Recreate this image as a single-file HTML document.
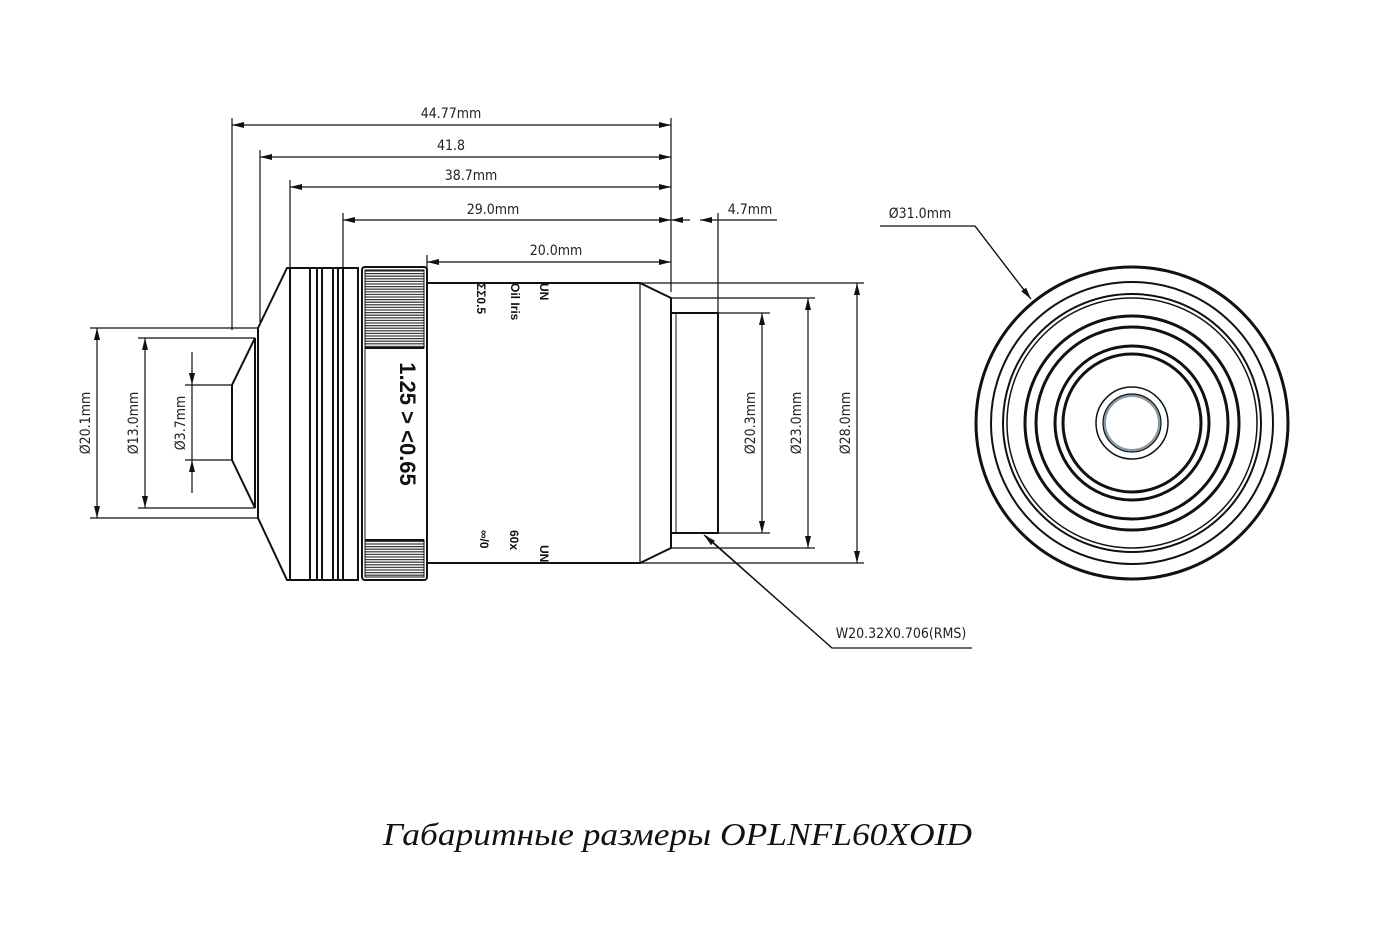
<!DOCTYPE html>
<html><head><meta charset="utf-8"><style>
html,body{margin:0;padding:0;background:#fff;}
svg{display:block}
.t{font-family:"DejaVu Sans Condensed","Liberation Sans Narrow","Liberation Sans",sans-serif;font-size:14px;fill:#222}
</style></head><body>
<svg width="1382" height="938" viewBox="0 0 1382 938" xmlns="http://www.w3.org/2000/svg">
<defs>
<marker id="a" viewBox="0 0 12 6" refX="12" refY="3" markerWidth="12" markerHeight="6" orient="auto-start-reverse" markerUnits="userSpaceOnUse"><path d="M0,0 L12,3 L0,6 z" fill="#111"/></marker>
<pattern id="k" width="2.6" height="6" patternUnits="userSpaceOnUse" patternTransform="rotate(90)"><rect width="1.2" height="6" fill="#333"/></pattern>
</defs>
<g stroke="#111" fill="none" stroke-width="1.2">
<line x1="232" y1="118" x2="232" y2="330"/>
<line x1="260" y1="150" x2="260" y2="322"/>
<line x1="290" y1="180" x2="290" y2="268"/>
<line x1="343" y1="213" x2="343" y2="268"/>
<line x1="427" y1="255" x2="427" y2="268"/>
<line x1="671" y1="118" x2="671" y2="292"/>
<line x1="718" y1="213" x2="718" y2="313"/>
<line x1="232" y1="125" x2="671" y2="125" marker-start="url(#a)" marker-end="url(#a)"/>
<line x1="260" y1="157" x2="671" y2="157" marker-start="url(#a)" marker-end="url(#a)"/>
<line x1="290" y1="187" x2="671" y2="187" marker-start="url(#a)" marker-end="url(#a)"/>
<line x1="343" y1="220" x2="671" y2="220" marker-start="url(#a)" marker-end="url(#a)"/>
<line x1="427" y1="262" x2="671" y2="262" marker-start="url(#a)" marker-end="url(#a)"/>
<line x1="671" y1="220" x2="690" y2="220" marker-start="url(#a)"/>
<line x1="700" y1="220" x2="777" y2="220" marker-start="url(#a)"/>
<line x1="90" y1="328" x2="258" y2="328"/><line x1="90" y1="518" x2="258" y2="518"/>
<line x1="138" y1="338" x2="255" y2="338"/><line x1="138" y1="508" x2="255" y2="508"/>
<line x1="185" y1="385" x2="232" y2="385"/><line x1="185" y1="460" x2="232" y2="460"/>
<line x1="97" y1="328" x2="97" y2="518" marker-start="url(#a)" marker-end="url(#a)"/>
<line x1="145" y1="338" x2="145" y2="508" marker-start="url(#a)" marker-end="url(#a)"/>
<line x1="192" y1="352" x2="192" y2="385" marker-end="url(#a)"/>
<line x1="192" y1="493" x2="192" y2="460" marker-end="url(#a)"/>
<line x1="192" y1="385" x2="192" y2="460"/>
<line x1="718" y1="313" x2="770" y2="313"/><line x1="718" y1="533" x2="770" y2="533"/>
<line x1="671" y1="298" x2="815" y2="298"/><line x1="671" y1="548" x2="815" y2="548"/>
<line x1="640" y1="283" x2="864" y2="283"/><line x1="640" y1="563" x2="864" y2="563"/>
<line x1="762" y1="313" x2="762" y2="533" marker-start="url(#a)" marker-end="url(#a)"/>
<line x1="808" y1="298" x2="808" y2="548" marker-start="url(#a)" marker-end="url(#a)"/>
<line x1="857" y1="283" x2="857" y2="563" marker-start="url(#a)" marker-end="url(#a)"/>
<polyline points="972,648 832,648 706,536"/>
<line x1="832" y1="648" x2="704" y2="535" marker-end="url(#a)"/>
<polyline points="880,226 975,226 1030,298"/>
<line x1="975" y1="226" x2="1031" y2="299" marker-end="url(#a)"/>
</g>
<g stroke="#111" fill="#fff" stroke-width="2">
<polygon points="258,328 287,268 358,268 358,580 287,580 258,518"/>
<polygon points="232,385 255,338 255,508 232,460"/>
<line x1="290" y1="268" x2="290" y2="580"/>
<line x1="310" y1="268" x2="310" y2="580"/>
<line x1="317" y1="268" x2="317" y2="580"/>
<line x1="322" y1="268" x2="322" y2="580"/>
<line x1="333" y1="268" x2="333" y2="580"/>
<line x1="338" y1="268" x2="338" y2="580"/>
<line x1="343" y1="268" x2="343" y2="580"/>
<rect x="362" y="267" width="65" height="313" rx="3"/>
<rect x="365" y="270" width="59" height="78" fill="url(#k)" stroke-width="1"/>
<rect x="365" y="540" width="59" height="37" fill="url(#k)" stroke-width="1"/>
<line x1="365" y1="348" x2="424" y2="348"/><line x1="365" y1="540" x2="424" y2="540"/>
<line x1="365" y1="348" x2="365" y2="540" stroke-width="1"/>
<polygon points="427,283 640,283 671,298 671,548 640,563 427,563"/>
<line x1="640" y1="283" x2="640" y2="563" stroke-width="1.2"/>
<rect x="671" y="313" width="47" height="220"/>
<line x1="676" y1="313" x2="676" y2="533" stroke-width="1"/>
</g>
<text transform="translate(400,424) rotate(90)" text-anchor="middle" font-family="Liberation Sans,sans-serif" font-weight="bold" font-size="22" fill="#111">1.25 &gt; &lt;0.65</text>
<g font-family="Liberation Sans Narrow,Liberation Sans,sans-serif" font-weight="bold" font-size="12" fill="#111">
<text transform="translate(540,283) rotate(90)">UN</text>
<text transform="translate(511,283) rotate(90)">Oil Iris</text>
<text transform="translate(477,283) rotate(90)">ΣΣ0.5</text>
<text transform="translate(540,545) rotate(90)">UN</text>
<text transform="translate(510,530) rotate(90)">60x</text>
<text transform="translate(480,530) rotate(90)">∞/0</text>
</g>
<g class="t" text-anchor="middle">
<text x="451" y="118">44.77mm</text>
<text x="451" y="150">41.8</text>
<text x="471" y="180">38.7mm</text>
<text x="493" y="214">29.0mm</text>
<text x="556" y="255">20.0mm</text>
<text x="750" y="214">4.7mm</text>
<text x="920" y="218">Ø31.0mm</text>
<text x="901" y="638">W20.32X0.706(RMS)</text>
<text transform="translate(90,423) rotate(-90)">Ø20.1mm</text>
<text transform="translate(138,423) rotate(-90)">Ø13.0mm</text>
<text transform="translate(185,423) rotate(-90)">Ø3.7mm</text>
<text transform="translate(755,423) rotate(-90)">Ø20.3mm</text>
<text transform="translate(801,423) rotate(-90)">Ø23.0mm</text>
<text transform="translate(850,423) rotate(-90)">Ø28.0mm</text>
</g>
<g stroke="#111" fill="none">
<circle cx="1132" cy="423" r="156" stroke-width="3"/>
<circle cx="1132" cy="423" r="141" stroke-width="2"/>
<circle cx="1132" cy="423" r="129" stroke-width="2"/>
<circle cx="1132" cy="423" r="125" stroke-width="1.5"/>
<circle cx="1132" cy="423" r="107" stroke-width="3"/>
<circle cx="1132" cy="423" r="96" stroke-width="3"/>
<circle cx="1132" cy="423" r="77" stroke-width="3"/>
<circle cx="1132" cy="423" r="69" stroke-width="3"/>
<circle cx="1132" cy="423" r="36" stroke-width="1.5"/>
<circle cx="1132" cy="423" r="27.5" stroke="#889aa6" stroke-width="3"/>
<circle cx="1132" cy="423" r="29" stroke-width="1.2"/>
</g>
<text x="383" y="845" textLength="589" lengthAdjust="spacingAndGlyphs" font-family="Liberation Serif,serif" font-style="italic" font-size="32" fill="#111">Габаритные размеры OPLNFL60XOID</text>
</svg>
</body></html>
